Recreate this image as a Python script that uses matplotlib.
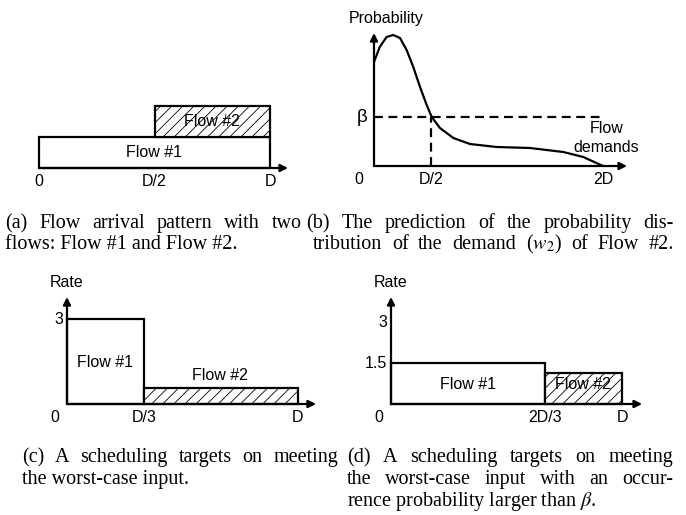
import numpy as np
import matplotlib
matplotlib.use("Agg")
import matplotlib.pyplot as plt
from matplotlib.patches import Rectangle

plt.rcParams["font.family"] = ["Liberation Sans", "DejaVu Sans"]
plt.rcParams["mathtext.fontset"] = "stix"
plt.rcParams["hatch.linewidth"] = 0.6

W, H = 686, 515
LW = 1.6
FS = 11.5
CAP_FS = 14.5

# (a) arrival pattern: (start, end, base, height) in units of D
arr_flows = ["Flow #1", "Flow #2"]
arr_start = [0.0, 0.5]
arr_end = [1.0, 1.0]
arr_base = [0.0, 1.0]
arr_height = [1.0, 1.0]
arr_ticks = [0.0, 0.5, 1.0]
arr_tick_labels = ["0", "D/2", "D"]

# (b) predicted probability of the demand of Flow #2 (x in units of D)
demand_x = [0.0, 0.05, 0.11, 0.168, 0.227, 0.285, 0.343, 0.402, 0.46, 0.504,
            0.576, 0.693, 0.838, 1.071, 1.362, 1.653, 1.828, 2.0]
demand_p = [104, 119, 129, 131, 128, 116, 99, 79, 61, 49,
            38, 28, 22, 19, 18, 14, 9, 0]
beta = 49
beta_x = 0.5
dist_ticks = [0.0, 0.5, 2.0]
dist_tick_labels = ["0", "D/2", "2D"]

# (c) worst-case schedule
wc_start = [0.0, 1 / 3]
wc_end = [1 / 3, 1.0]
wc_rate = [3.0, 0.57]
wc_ticks = [0.0, 1 / 3, 1.0]
wc_tick_labels = ["0", "D/3", "D"]
wc_yticks = [3]
wc_ytick_labels = ["3"]

# (d) beta-aware schedule
pb_start = [0.0, 2 / 3]
pb_end = [2 / 3, 1.0]
pb_rate = [1.5, 1.13]
pb_ticks = [0.0, 2 / 3, 1.0]
pb_tick_labels = ["0", "2D/3", "D"]
pb_yticks = [1.5, 3]
pb_ytick_labels = ["1.5", "3"]

fig = plt.figure(figsize=(W / 100, H / 100), dpi=100)


def panel(box, origin, sx, sy):
    l, t, r, b = box
    ax = fig.add_axes([l / W, 1 - b / H, (r - l) / W, (b - t) / H])
    ax.set_xlim((l - origin[0]) / sx, (r - origin[0]) / sx)
    ax.set_ylim((origin[1] - b) / sy, (origin[1] - t) / sy)
    ax.axis("off")
    return ax


def arrow(ax, x0, y0, x1, y1):
    ax.annotate("", xy=(x1, y1), xytext=(x0, y0),
                arrowprops=dict(arrowstyle="-|>", lw=LW, color="black",
                                mutation_scale=11, shrinkA=0, shrinkB=0))


def xticks(ax, ticks, labels, dx=0):
    for i, (t, s) in enumerate(zip(ticks, labels)):
        off = dx if i == 0 else 0
        ax.annotate(s, xy=(t, 0), xytext=(off, -14), textcoords="offset pixels",
                    ha="center", va="center", fontsize=FS)


def yticks(ax, ticks, labels):
    for t, s in zip(ticks, labels):
        ax.annotate(s, xy=(0, t), xytext=(-4, 0), textcoords="offset pixels",
                    ha="right", va="center", fontsize=FS)


def bars(ax, start, end, rate, hatches, base=None):
    if base is None:
        base = [0] * len(start)
    for s, e, r, b, h in zip(start, end, rate, base, hatches):
        ax.add_patch(Rectangle((s, b), e - s, r, facecolor="white",
                               edgecolor="black", lw=LW, hatch=h, zorder=2))


# (a)
ax = panel((0, 90, 330, 195), (39, 168), 231, 31)
bars(ax, arr_start, arr_end, arr_height, ["", "///"], arr_base)
arrow(ax, 0, 0, 1.078, 0)
for s, e, b, hgt, name in zip(arr_start, arr_end, arr_base, arr_height, arr_flows):
    ax.text((s + e) / 2, b + hgt / 2, name, ha="center", va="center",
            fontsize=FS, zorder=3)
xticks(ax, arr_ticks, arr_tick_labels)

# (b)
ax = panel((330, 0, 686, 195), (374, 166), 114.5, 1)
ax.plot(demand_x, demand_p, color="black", lw=LW, solid_capstyle="round")
ax.plot([0, 2.0], [beta, beta], color="black", lw=LW, ls=(0, (4, 2.5)))
ax.plot([beta_x, beta_x], [0, beta], color="black", lw=LW, ls=(0, (4, 2.5)))
arrow(ax, 0, 0, 2.21, 0)
arrow(ax, 0, 0, 0, 133)
ax.text(0.11, 148, "Probability", ha="center", va="center", fontsize=FS)
ax.text(-0.1, beta, "β", ha="center", va="center", fontsize=FS + 2)
ax.text(2.03, 28, "Flow\ndemands", ha="center", va="center", fontsize=FS,
        linespacing=1.35)
xticks(ax, dist_ticks, dist_tick_labels, dx=-15)

# (c)
ax = panel((0, 270, 340, 440), (67, 404), 231, 28.3)
bars(ax, wc_start, wc_end, wc_rate, ["", "///"])
arrow(ax, 0, 0, 1.078, 0)
arrow(ax, 0, 0, 0, 3.78)
ax.text(1 / 6, 1.48, "Flow #1", ha="center", va="center", fontsize=FS)
ax.text(0.66, 1.02, "Flow #2", ha="center", va="center", fontsize=FS)
ax.text(0, 4.3, "Rate", ha="center", va="center", fontsize=FS)
yticks(ax, wc_yticks, wc_ytick_labels)
xticks(ax, wc_ticks, wc_tick_labels, dx=-12)

# (d)
ax = panel((340, 270, 686, 440), (391, 404), 231, 27.3)
bars(ax, pb_start, pb_end, pb_rate, ["", "///"])
arrow(ax, 0, 0, 1.087, 0)
arrow(ax, 0, 0, 0, 3.92)
ax.text(1 / 3, 0.7, "Flow #1", ha="center", va="center", fontsize=FS, zorder=3)
ax.text(0.83, 0.7, "Flow #2", ha="center", va="center", fontsize=FS, zorder=3)
ax.text(0, 4.45, "Rate", ha="center", va="center", fontsize=FS)
yticks(ax, pb_yticks, pb_ytick_labels)
xticks(ax, pb_ticks, pb_tick_labels, dx=-12)

# captions
renderer = fig.canvas.get_renderer()


def caption(line, x0, y, x1=None):
    kw = dict(fontsize=CAP_FS, family="Liberation Serif", va="baseline")
    if x1 is None:
        fig.text(x0 / W, 1 - y / H, line, **kw)
        return
    words = line.split()
    texts = [fig.text(0, 1 - y / H, w, **kw) for w in words]
    widths = [t.get_window_extent(renderer).width for t in texts]
    gap = (x1 - x0 - sum(widths)) / (len(words) - 1)
    x = x0
    for t, w in zip(texts, widths):
        t.set_x(x / W)
        x += w + gap


caption("(a) Flow arrival pattern with two", 5, 228, 302)
caption("flows: Flow #1 and Flow #2.", 5, 249)
caption("(b) The prediction of the probability dis-", 306, 228, 674)
caption("tribution of the demand ($w_2$) of Flow #2.", 313, 249, 674)
caption("(c) A scheduling targets on meeting", 22, 462, 338)
caption("the worst-case input.", 22, 484)
caption("(d) A scheduling targets on meeting", 347, 462, 673)
caption("the worst-case input with an occur-", 347, 484, 673)
caption("rence probability larger than $\\beta$.", 347, 506)

fig.savefig("out.png", dpi=100)
